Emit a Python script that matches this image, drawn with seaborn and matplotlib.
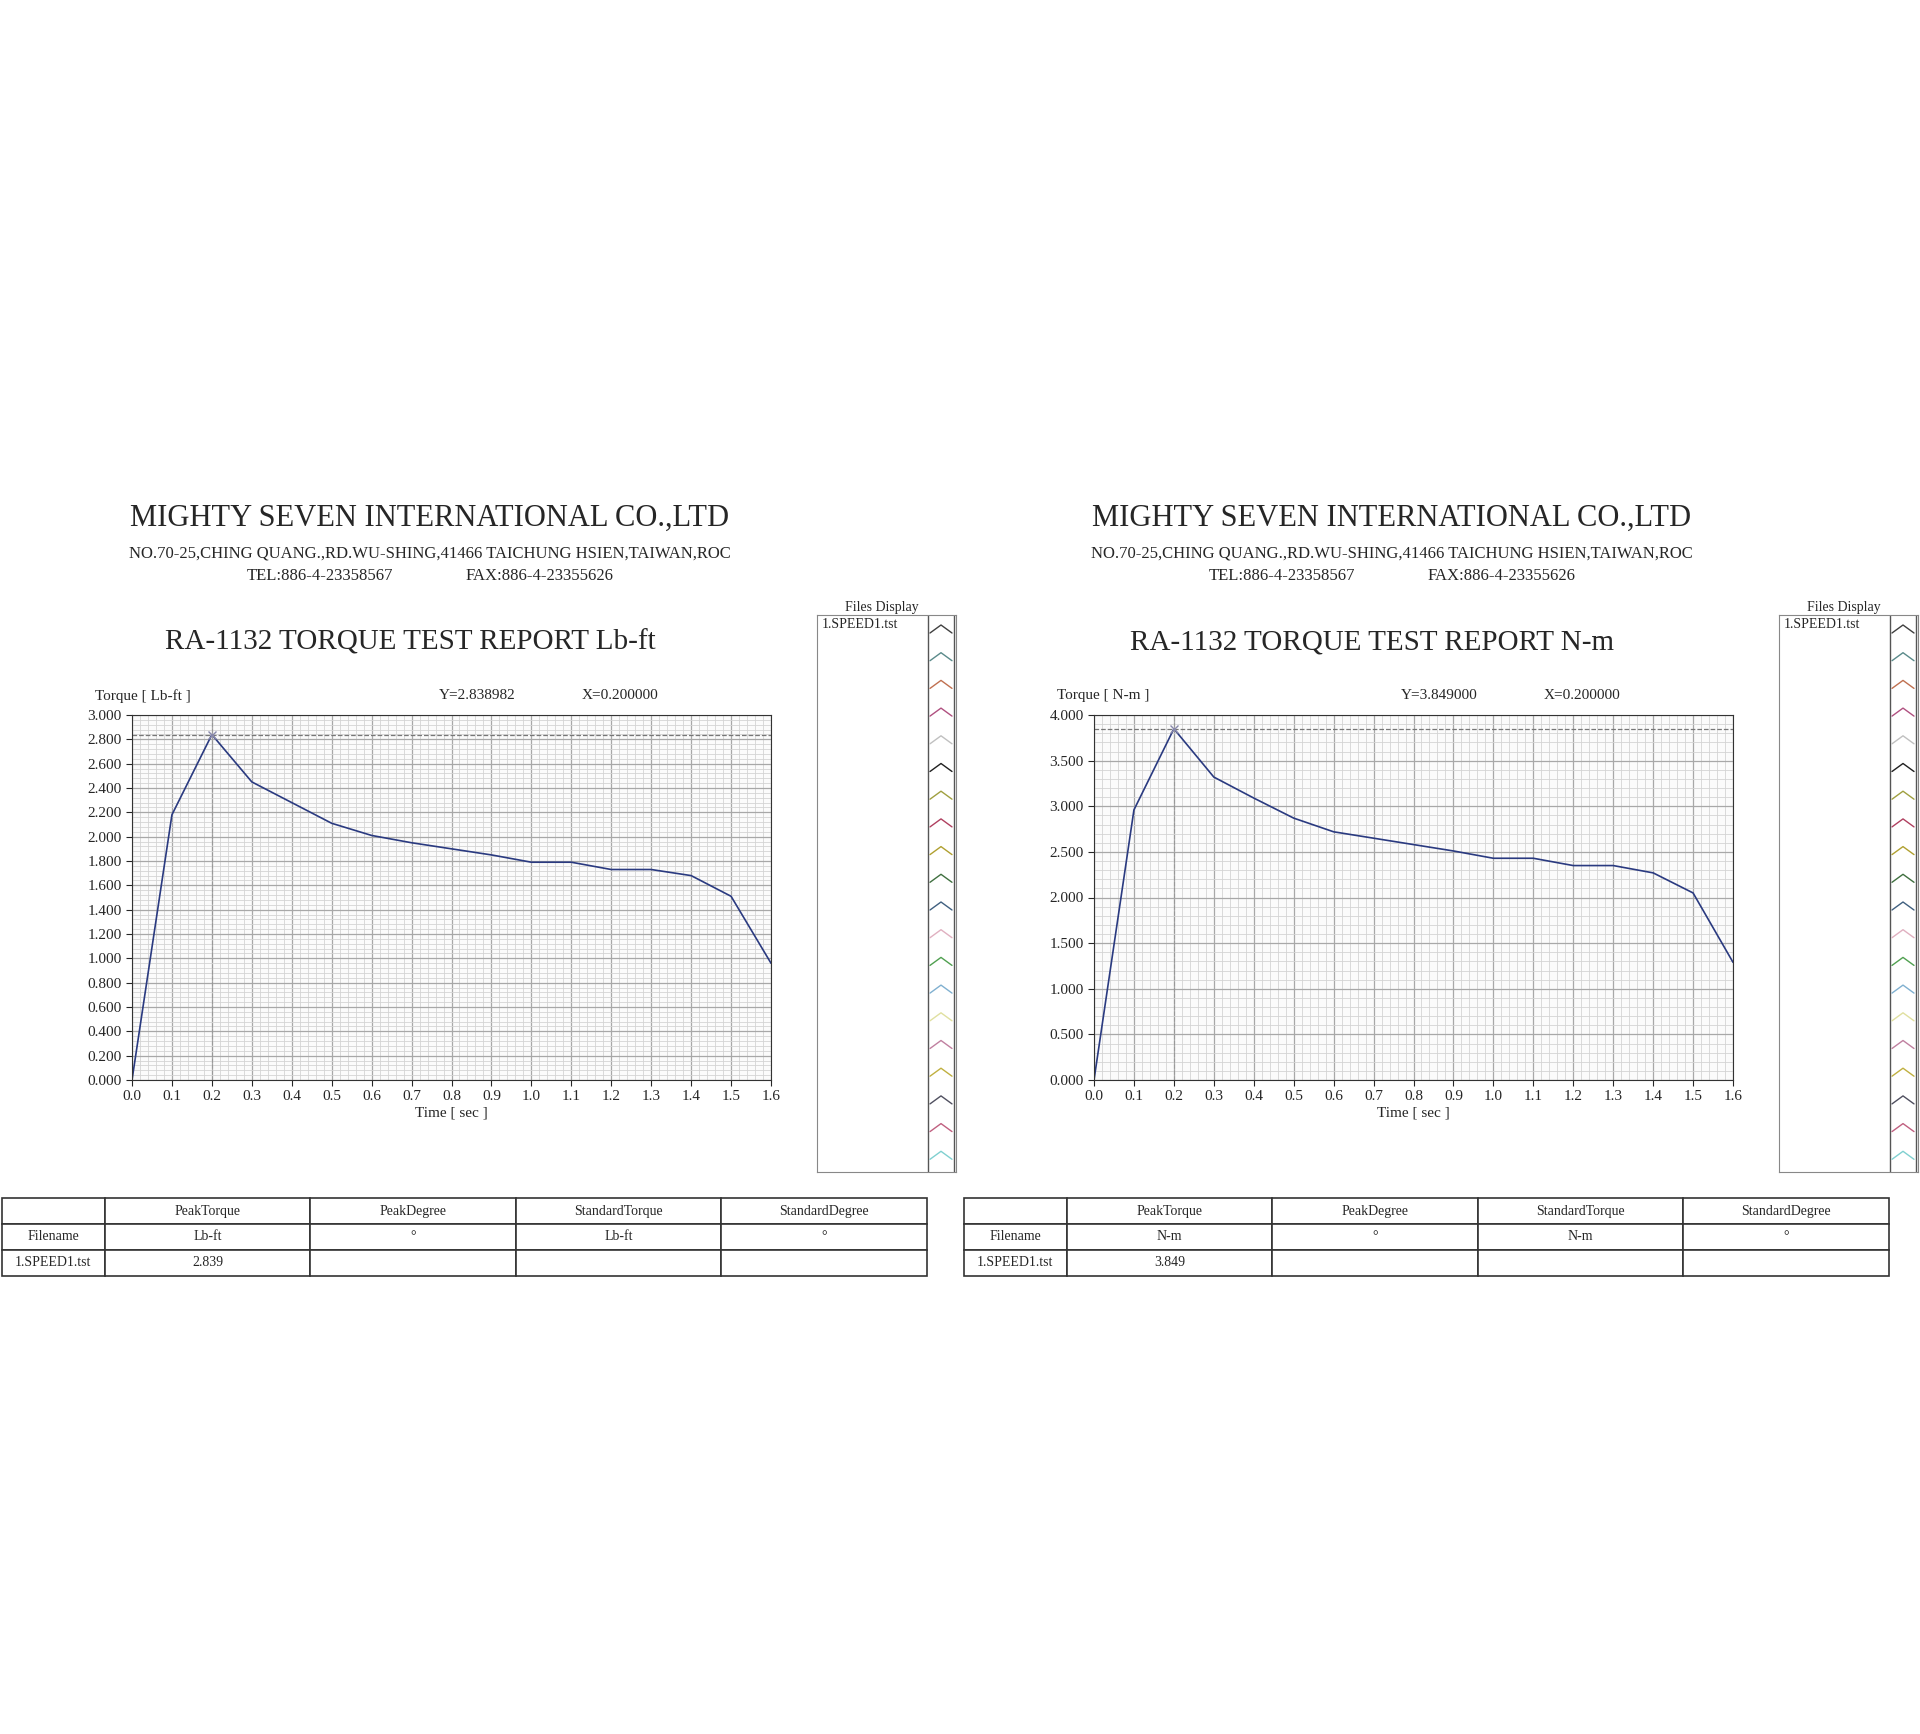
import numpy as np
import matplotlib
matplotlib.use("Agg")
import matplotlib.pyplot as plt
from matplotlib.ticker import MultipleLocator
import seaborn as sns

# Data
time_s = [0.0, 0.1, 0.2, 0.3, 0.4, 0.5, 0.6, 0.7, 0.8, 0.9, 1.0, 1.1, 1.2, 1.3, 1.4, 1.5, 1.6]
torque_lbft = [0.0, 2.18, 2.839, 2.45, 2.28, 2.11, 2.01, 1.95, 1.90, 1.85, 1.79, 1.79, 1.73, 1.73, 1.68, 1.51, 0.96]
torque_nm = [0.0, 2.96, 3.849, 3.32, 3.09, 2.87, 2.72, 2.65, 2.58, 2.51, 2.43, 2.43, 2.35, 2.35, 2.27, 2.05, 1.29]

panels = [
    dict(unit="Lb-ft", y=torque_lbft, ymax=3.0, major=0.2, peak_txt="Y=2.838982", peak="2.839"),
    dict(unit="N-m", y=torque_nm, ymax=4.0, major=0.5, peak_txt="Y=3.849000", peak="3.849"),
]
chevron_colors = ["#404040", "#5a8a8a", "#c07050", "#b05080", "#c0c0c0", "#202020", "#a0a040",
                  "#b04060", "#b0a030", "#407040", "#406080", "#e0b0c0", "#50a050", "#80b0d0",
                  "#e0e0a0", "#c080a0", "#c0b040", "#505060", "#c06080", "#80d0d0"]

sns.set_style("white")
plt.rcParams["font.family"] = ["Liberation Serif", "DejaVu Serif"]

W, H = 1920, 1734
fig = plt.figure(figsize=(W / 100, H / 100), dpi=100)


def fx(px):
    return px / W


def fy(py):
    return 1 - py / H


for i, p in enumerate(panels):
    off = i * 962
    # header texts
    fig.text(fx(off + 430), fy(518), "MIGHTY SEVEN INTERNATIONAL CO.,LTD", ha="center", va="center",
             fontsize=22)
    fig.text(fx(off + 430), fy(553), "NO.70-25,CHING QUANG.,RD.WU-SHING,41466 TAICHUNG HSIEN,TAIWAN,ROC",
             ha="center", va="center", fontsize=12)
    fig.text(fx(off + 320), fy(576), "TEL:886-4-23358567", ha="center", va="center", fontsize=12)
    fig.text(fx(off + 540), fy(576), "FAX:886-4-23355626", ha="center", va="center", fontsize=12)
    fig.text(fx(off + 410), fy(642), f"RA-1132 TORQUE TEST REPORT {p['unit']}", ha="center", va="center",
             fontsize=21)
    fig.text(fx(off + 95), fy(696), f"Torque [ {p['unit']} ]", ha="left", va="center", fontsize=11)
    fig.text(fx(off + 477), fy(696), p["peak_txt"], ha="center", va="center", fontsize=11)
    fig.text(fx(off + 620), fy(696), "X=0.200000", ha="center", va="center", fontsize=11)

    ax = fig.add_axes([fx(off + 132), fy(1080), fx(639), (1080 - 715) / H])
    ax.set_facecolor("#fbfbfb")
    ax.xaxis.set_major_locator(MultipleLocator(0.1))
    ax.xaxis.set_minor_locator(MultipleLocator(0.02))
    ax.yaxis.set_major_locator(MultipleLocator(p["major"]))
    ax.yaxis.set_minor_locator(MultipleLocator(p["major"] / 5))
    ax.grid(which="major", color="#a8a8a8", lw=0.9)
    ax.grid(which="minor", color="#d4d4d4", lw=0.6)
    ax.set_axisbelow(True)
    sns.lineplot(x=time_s, y=p["y"], ax=ax, color="#2a3a80", lw=1.2)
    pk = int(np.argmax(p["y"]))
    ax.axhline(p["y"][pk], color="#777777", ls="--", lw=0.9)
    ax.axvline(time_s[pk], color="#999999", ls="--", lw=0.8)
    ax.plot(time_s[pk], p["y"][pk], marker="x", color="#8888aa", ms=6)
    ax.set_xlim(0, 1.6)
    ax.set_ylim(0, p["ymax"])
    ax.set_yticks(np.arange(0, p["ymax"] + 1e-9, p["major"]))
    ax.set_yticklabels([f"{v:.3f}" for v in np.arange(0, p["ymax"] + 1e-9, p["major"])])
    ax.set_xticks(np.arange(0, 1.61, 0.1))
    ax.set_xticklabels([f"{v:.1f}" for v in np.arange(0, 1.61, 0.1)])
    ax.tick_params(which="major", length=4, labelsize=11, left=True, bottom=True)
    ax.set_xlabel("Time [ sec ]", fontsize=11, labelpad=2)
    ax.set_ylabel("")
    for s in ax.spines.values():
        s.set_color("#333333")

    # Files Display box
    fig.text(fx(off + 882), fy(608), "Files Display", ha="center", va="center", fontsize=10)
    bx = fig.add_axes([fx(off + 817), fy(1172), fx(139), (1172 - 615) / H])
    bx.set_xlim(0, 139)
    bx.set_ylim(557, 0)
    bx.set_xticks([])
    bx.set_yticks([])
    for s in bx.spines.values():
        s.set_color("#888888")
    bx.text(5, 10, "1.SPEED1.tst", fontsize=10, va="center")
    bx.plot([111, 111], [0, 557], color="#555555", lw=1)
    bx.plot([137, 137], [0, 557], color="#555555", lw=1)
    for k, c in enumerate(chevron_colors):
        yc = 10 + k * 27.7
        bx.plot([113, 124, 135], [yc + 8, yc, yc + 8], color=c, lw=1)

    # Result table
    tx = fig.add_axes([fx(off + 2), fy(1276), fx(925), (1276 - 1198) / H])
    tx.set_axis_off()
    rows = [["", "PeakTorque", "PeakDegree", "StandardTorque", "StandardDegree"],
            ["Filename", p["unit"], "°", p["unit"], "°"],
            ["1.SPEED1.tst", p["peak"], "", "", ""]]
    tb = tx.table(cellText=rows, bbox=[0, 0, 1, 1], cellLoc="center",
                  colWidths=[0.111, 0.222, 0.222, 0.222, 0.222])
    tb.auto_set_font_size(False)
    tb.set_fontsize(10)
    for (r, c), cell in tb.get_celld().items():
        cell.set_edgecolor("#333333")
        cell.set_linewidth(1.2)

fig.savefig("out.png", dpi=100, facecolor="white")
